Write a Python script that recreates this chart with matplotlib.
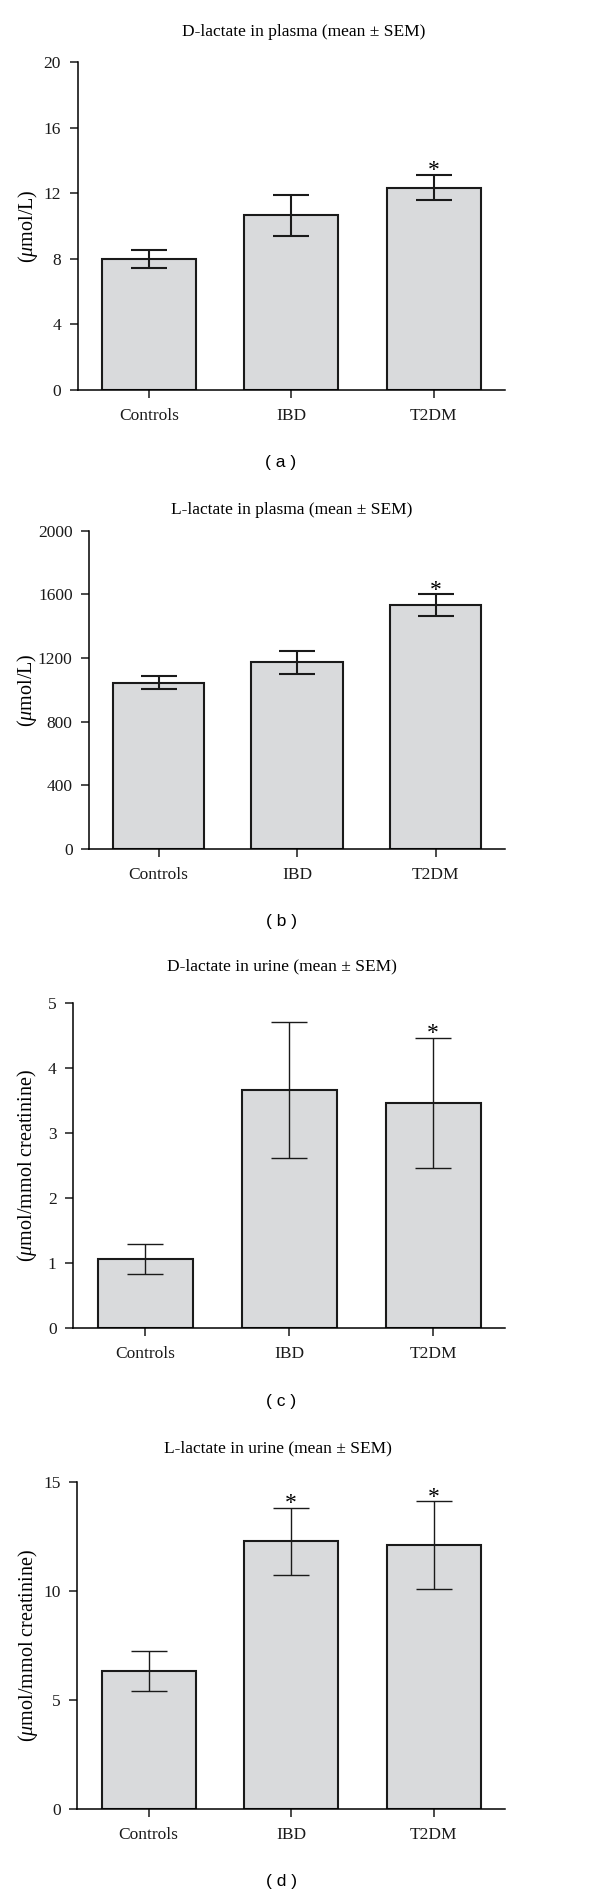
import matplotlib
matplotlib.use("Agg")
import matplotlib.pyplot as plt

# Data
groups = ["Controls", "IBD", "T2DM"]

d_plasma_mean = [8.0, 10.65, 12.35]
d_plasma_sem = [0.57, 1.24, 0.77]
d_plasma_star = [False, False, True]

l_plasma_mean = [1045, 1172, 1534]
l_plasma_sem = [39, 75, 67]
l_plasma_star = [False, False, True]

d_urine_mean = [1.06, 3.65, 3.46]
d_urine_sem = [0.233, 1.046, 1.0]
d_urine_star = [False, False, True]

l_urine_mean = [6.32, 12.27, 12.10]
l_urine_sem = [0.91, 1.535, 2.0]
l_urine_star = [False, True, True]

titles = [
    "D-lactate in plasma (mean \u00b1 SEM)",
    "L-lactate in plasma (mean \u00b1 SEM)",
    "D-lactate in urine (mean \u00b1 SEM)",
    "L-lactate in urine (mean \u00b1 SEM)",
]
ylabels = [
    r"($\mu$mol/L)",
    r"($\mu$mol/L)",
    r"($\mu$mol/mmol creatinine)",
    r"($\mu$mol/mmol creatinine)",
]
yticks = [
    [0, 4, 8, 12, 16, 20],
    [0, 400, 800, 1200, 1600, 2000],
    [0, 1, 2, 3, 4, 5],
    [0, 5, 10, 15],
]
letters = ["( a )", "( b )", "( c )", "( d )"]

means = [d_plasma_mean, l_plasma_mean, d_urine_mean, l_urine_mean]
sems = [d_plasma_sem, l_plasma_sem, d_urine_sem, l_urine_sem]
stars = [d_plasma_star, l_plasma_star, d_urine_star, l_urine_star]

# layout in pixels: left, right, top, bottom of each axes
W, H = 600, 1898
boxes = [
    (77.7, 505, 62.3, 390),
    (89.3, 505, 530.7, 849),
    (73.3, 505, 1002.7, 1327.7),
    (77.3, 505, 1481.7, 1809),
]
title_pos = [(303.5, 32), (291.7, 510), (282, 966.7), (278.3, 1448.3)]
letter_y = [463, 921.7, 1401.7, 1881.7]
ylabel_x = [28, 27, 27, 28]
err_lw = [1.5, 1.5, 1.0, 1.0]

plt.rcParams["font.family"] = "Liberation Serif"
plt.rcParams["mathtext.fontset"] = "custom"
plt.rcParams["mathtext.rm"] = "Liberation Serif"
plt.rcParams["mathtext.it"] = "Liberation Serif:italic"

fig = plt.figure(figsize=(W / 100, H / 100), dpi=100, facecolor="white")

for i in range(4):
    l, r, t, b = boxes[i]
    ax = fig.add_axes([l / W, 1 - b / H, (r - l) / W, (b - t) / H])
    x = list(range(len(groups)))
    ax.bar(x, means[i], width=0.66, color="#d9dadc", edgecolor="#1a1a1a",
           linewidth=1.5, zorder=2)
    ax.errorbar(x, means[i], yerr=sems[i], fmt="none", ecolor="#1a1a1a",
                elinewidth=err_lw[i], capsize=13, capthick=err_lw[i], zorder=3)
    for xi, m, s, st in zip(x, means[i], sems[i], stars[i]):
        if st:
            ax.annotate("*", (xi, m + s), xytext=(0, -1), textcoords="offset points",
                        ha="center", va="baseline", fontsize=17)
    ax.set_xlim(-0.5, 2.5)
    ax.set_ylim(0, yticks[i][-1])
    ax.set_yticks(yticks[i])
    ax.set_xticks(x)
    ax.set_xticklabels(groups)
    ax.spines["top"].set_visible(False)
    ax.spines["right"].set_visible(False)
    ax.spines["left"].set_linewidth(1.1)
    ax.spines["bottom"].set_linewidth(1.1)
    ax.tick_params(axis="both", direction="out", length=6, width=1.1,
                   labelsize=12.5, colors="#1a1a1a")
    ax.tick_params(axis="y", pad=6)
    ax.tick_params(axis="x", pad=7)

    tx, ty = title_pos[i]
    fig.text(tx / W, 1 - ty / H, titles[i], ha="center", va="center", fontsize=12.5)
    fig.text(ylabel_x[i] / W, 1 - ((t + b) / 2) / H, ylabels[i], rotation=90,
             ha="center", va="center", fontsize=14.5)
    fig.text(281 / W, 1 - letter_y[i] / H, letters[i], ha="center", va="center",
             fontsize=12.5, family="Liberation Sans")

fig.savefig("out.png", dpi=100, facecolor="white")
